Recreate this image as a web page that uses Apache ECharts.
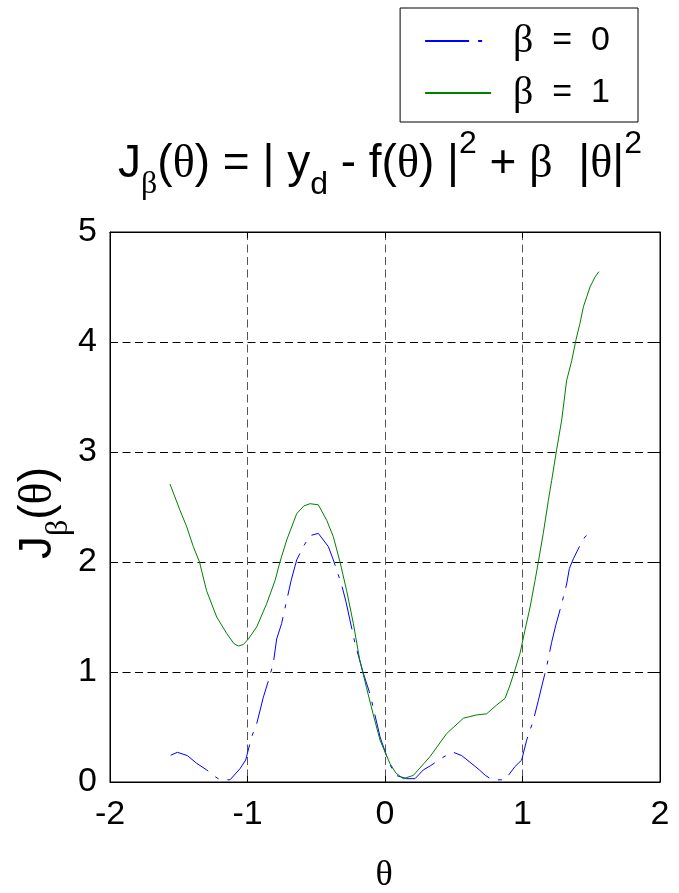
<!DOCTYPE html>
<html>
<head>
<meta charset="utf-8">
<script src="https://cdn.jsdelivr.net/npm/echarts@6/dist/echarts.min.js"></script>
<style>html,body{margin:0;padding:0;background:#fff;}#c{width:679px;height:893px;}</style>
</head>
<body>
<div id="c"></div>
<script>
// ---- data ----
const seriesNames = ['β = 0', 'β = 1'];
const xTicks = [-2, -1, 0, 1, 2];
const yTicks = [0, 1, 2, 3, 4, 5];
const thetaBeta0 = [-1.559,-1.510,-1.437,-1.370,-1.297,-1.250,-1.200,-1.127,-1.055,-1.013,-0.970,-0.933,-0.885,-0.848,-0.812,-0.788,-0.752,-0.715,-0.683,-0.642,-0.594,-0.545,-0.485,-0.412,-0.376,-0.315,-0.284,-0.218,-0.158,-0.109,-0.036,0.030,0.080,0.158,0.218,0.279,0.333,0.429,0.497,0.558,0.618,0.686,0.730,0.780,0.873,0.945,0.994,1.030,1.079,1.115,1.144,1.176,1.212,1.241,1.285,1.321,1.341,1.370,1.418,1.455,1.491];
const jBeta0 = [0.243,0.270,0.240,0.170,0.110,0.060,0.020,0.020,0.120,0.200,0.410,0.530,0.770,0.920,1.080,1.300,1.440,1.650,1.830,2.020,2.140,2.240,2.260,2.140,2.020,1.790,1.640,1.260,0.990,0.800,0.410,0.170,0.060,0.030,0.030,0.110,0.150,0.230,0.270,0.240,0.180,0.110,0.060,0.020,0.020,0.140,0.200,0.380,0.560,0.740,0.890,1.050,1.270,1.420,1.620,1.800,1.940,2.030,2.150,2.230,2.260];
const thetaBeta1 = [-1.564,-1.491,-1.442,-1.394,-1.349,-1.298,-1.224,-1.151,-1.100,-1.067,-1.030,-0.994,-0.933,-0.861,-0.800,-0.764,-0.715,-0.642,-0.590,-0.545,-0.485,-0.424,-0.376,-0.327,-0.279,-0.230,-0.184,-0.135,-0.087,-0.036,0.035,0.080,0.133,0.206,0.327,0.448,0.570,0.667,0.739,0.812,0.873,0.909,0.945,0.982,1.018,1.055,1.091,1.115,1.151,1.188,1.212,1.248,1.285,1.321,1.358,1.389,1.418,1.443,1.467,1.491,1.527,1.556];
const jBeta1 = [2.71,2.47,2.32,2.14,2.00,1.74,1.50,1.35,1.26,1.236,1.25,1.30,1.41,1.62,1.83,2.00,2.20,2.44,2.51,2.53,2.52,2.38,2.23,2.00,1.74,1.44,1.11,0.86,0.62,0.38,0.17,0.08,0.03,0.06,0.23,0.44,0.58,0.61,0.62,0.70,0.76,0.88,1.02,1.17,1.38,1.59,1.83,2.00,2.26,2.56,2.74,3.02,3.29,3.65,3.83,4.02,4.17,4.32,4.41,4.50,4.59,4.64];

const SANS = '"Liberation Sans", Arial, Helvetica, sans-serif';
const SERIF = '"Liberation Serif", "Times New Roman", serif';

const mctx = document.createElement('canvas').getContext('2d');
function tw(t, s, f) { mctx.font = s + 'px ' + f; return mctx.measureText(t).width; }
const K = 0.31;
function flow(pieces, baseline) {
  const total = pieces.reduce((a, p) => a + tw(p.t, p.s, p.f), 0);
  let x = -total / 2;
  return pieces.map(p => {
    const el = {
      type: 'text', x: x, y: baseline + (p.dy || 0) - K * p.s,
      style: { text: p.t, fontSize: p.s, fontFamily: p.f, fill: '#000', align: 'left', verticalAlign: 'middle' }
    };
    x += tw(p.t, p.s, p.f);
    return el;
  });
}
const M = 46, S = 32;
const titlePieces = [
  {t:'J', s:M, f:SANS}, {t:'β', s:S, f:SERIF, dy:16},
  {t:'(', s:M, f:SANS}, {t:'θ', s:M, f:SERIF}, {t:') = | y', s:M, f:SANS},
  {t:'d', s:S, f:SANS, dy:16},
  {t:' - f(', s:M, f:SANS}, {t:'θ', s:M, f:SERIF}, {t:') |', s:M, f:SANS},
  {t:'2', s:S, f:SANS, dy:-25},
  {t:' + ', s:M, f:SANS}, {t:'β', s:M, f:SERIF}, {t:'  |', s:M, f:SANS},
  {t:'θ', s:M, f:SERIF}, {t:'|', s:M, f:SANS}, {t:'2', s:S, f:SANS, dy:-25}
];
const ylabPieces = [
  {t:'J', s:M, f:SANS}, {t:'β', s:S, f:SERIF, dy:16},
  {t:'(', s:M, f:SANS}, {t:'θ', s:M, f:SERIF}, {t:')', s:M, f:SANS}
];

const chart = echarts.init(document.getElementById('c'), null, {renderer: 'canvas'});
const gridLine = (c) => ({ show: true, lineStyle: { color: c, type: [8, 4.5], width: 1 } });
const axLine = { show: true, onZero: false, lineStyle: { color: '#000', width: 1 } };
const axTick = { show: true, inside: true, length: 6, lineStyle: { color: '#000' } };
const option = {
  animation: false,
  backgroundColor: '#fff',
  grid: { left: 110, right: 19, top: 232, bottom: 111, show: true, borderColor: '#000', borderWidth: 1, containLabel: false },
  xAxis: [
    { type: 'value', min: xTicks[0], max: xTicks[xTicks.length-1], interval: 1, position: 'bottom',
      axisLine: axLine, axisTick: axTick,
      axisLabel: { fontSize: 34, fontFamily: SANS, color: '#000', margin: 16 },
      splitLine: gridLine('#555') },
    { type: 'value', min: xTicks[0], max: xTicks[xTicks.length-1], interval: 1, position: 'top',
      axisLine: axLine, axisTick: axTick,
      axisLabel: { show: false }, splitLine: { show: false } }
  ],
  yAxis: [
    { type: 'value', min: yTicks[0], max: yTicks[yTicks.length-1], interval: 1, position: 'left',
      axisLine: axLine, axisTick: axTick,
      axisLabel: { fontSize: 34, fontFamily: SANS, color: '#000', margin: 13 },
      splitLine: gridLine('#000') },
    { type: 'value', min: yTicks[0], max: yTicks[yTicks.length-1], interval: 1, position: 'right',
      axisLine: axLine, axisTick: axTick,
      axisLabel: { show: false }, splitLine: { show: false } }
  ],
  legend: {
    orient: 'vertical', right: 41, top: 8,
    padding: [13, 28, 9, 24], itemGap: 12, itemWidth: 66, itemHeight: 14,
    borderColor: '#000', borderWidth: 1, backgroundColor: '#fff',
    data: seriesNames,
    itemStyle: { opacity: 0, color: 'rgba(0,0,0,0)', borderWidth: 0 },
    formatter: name => name.replace(' = ', '  =  ').replace('β', '{b|β}'),
    textStyle: { fontSize: 34, fontFamily: SANS, color: '#000', padding: [0, 0, 0, 17],
      rich: { b: { fontSize: 40, fontFamily: SERIF, color: '#000' } } }
  },
  graphic: [
    { type: 'group', x: 380, y: 0, children: flow(titlePieces, 179) },
    { type: 'group', x: 53, y: 513, rotation: Math.PI / 2, children: flow(ylabPieces, 0) },
    { type: 'text', x: 384, y: 876, style: { text: 'θ', fontSize: 36, fontFamily: SERIF, fill: '#000', align: 'center', verticalAlign: 'middle' } }
  ],
  series: [
    { name: seriesNames[0], type: 'line', symbol: 'none', smooth: false,
      data: thetaBeta0.map((t, i) => [t, jBeta0[i]]),
      lineStyle: { color: '#0000ff', width: 1, type: [44, 9, 4, 9] }, itemStyle: { color: '#0000ff' } },
    { name: seriesNames[1], type: 'line', symbol: 'none', smooth: false,
      data: thetaBeta1.map((t, i) => [t, jBeta1[i]]),
      lineStyle: { color: '#008000', width: 1, type: 'solid' }, itemStyle: { color: '#008000' } }
  ]
};
chart.setOption(option);
</script>
</body>
</html>
